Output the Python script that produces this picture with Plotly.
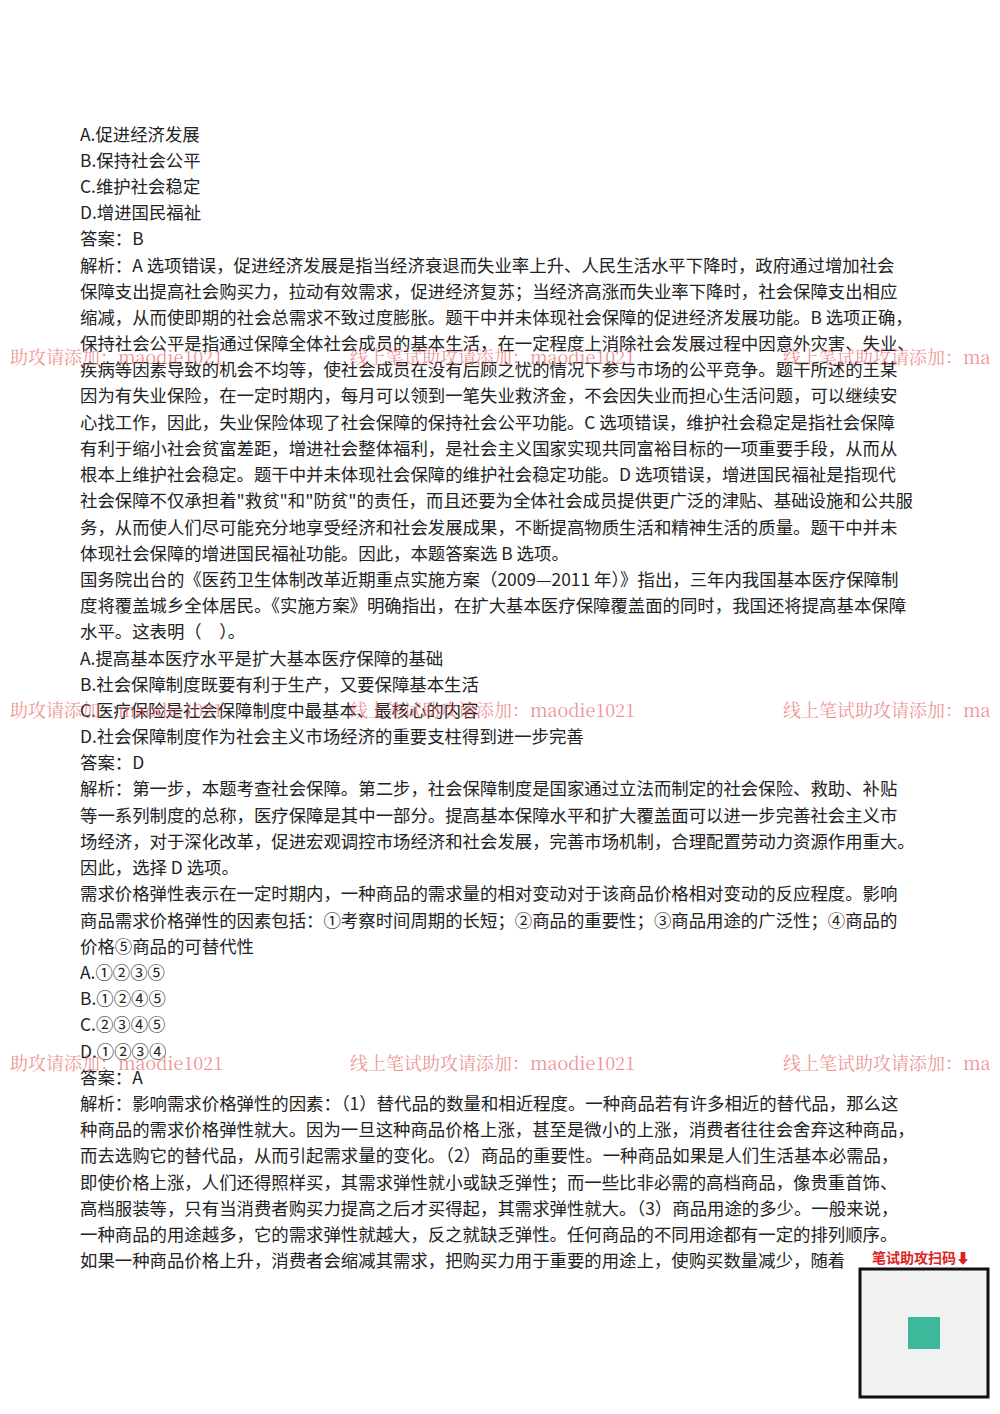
import plotly.graph_objects as go

W, H = 1000, 1414

body_lines = [
    "A.促进经济发展",
    "B.保持社会公平",
    "C.维护社会稳定",
    "D.增进国民福祉",
    "答案：B",
    "解析：A 选项错误，促进经济发展是指当经济衰退而失业率上升、人民生活水平下降时，政府通过增加社会",
    "保障支出提高社会购买力，拉动有效需求，促进经济复苏；当经济高涨而失业率下降时，社会保障支出相应",
    "缩减，从而使即期的社会总需求不致过度膨胀。题干中并未体现社会保障的促进经济发展功能。B 选项正确，",
    "保持社会公平是指通过保障全体社会成员的基本生活，在一定程度上消除社会发展过程中因意外灾害、失业、",
    "疾病等因素导致的机会不均等，使社会成员在没有后顾之忧的情况下参与市场的公平竞争。题干所述的王某",
    "因为有失业保险，在一定时期内，每月可以领到一笔失业救济金，不会因失业而担心生活问题，可以继续安",
    "心找工作，因此，失业保险体现了社会保障的保持社会公平功能。C 选项错误，维护社会稳定是指社会保障",
    "有利于缩小社会贫富差距，增进社会整体福利，是社会主义国家实现共同富裕目标的一项重要手段，从而从",
    "根本上维护社会稳定。题干中并未体现社会保障的维护社会稳定功能。D 选项错误，增进国民福祉是指现代",
    "社会保障不仅承担着\"救贫\"和\"防贫\"的责任，而且还要为全体社会成员提供更广泛的津贴、基础设施和公共服",
    "务，从而使人们尽可能充分地享受经济和社会发展成果，不断提高物质生活和精神生活的质量。题干中并未",
    "体现社会保障的增进国民福祉功能。因此，本题答案选 B 选项。",
    "国务院出台的《医药卫生体制改革近期重点实施方案（2009—2011 年）》指出，三年内我国基本医疗保障制",
    "度将覆盖城乡全体居民。《实施方案》明确指出，在扩大基本医疗保障覆盖面的同时，我国还将提高基本保障",
    "水平。这表明（　）。",
    "A.提高基本医疗水平是扩大基本医疗保障的基础",
    "B.社会保障制度既要有利于生产，又要保障基本生活",
    "C.医疗保险是社会保障制度中最基本、最核心的内容",
    "D.社会保障制度作为社会主义市场经济的重要支柱得到进一步完善",
    "答案：D",
    "解析：第一步，本题考查社会保障。第二步，社会保障制度是国家通过立法而制定的社会保险、救助、补贴",
    "等一系列制度的总称，医疗保障是其中一部分。提高基本保障水平和扩大覆盖面可以进一步完善社会主义市",
    "场经济，对于深化改革，促进宏观调控市场经济和社会发展，完善市场机制，合理配置劳动力资源作用重大。",
    "因此，选择 D 选项。",
    "需求价格弹性表示在一定时期内，一种商品的需求量的相对变动对于该商品价格相对变动的反应程度。影响",
    "商品需求价格弹性的因素包括：①考察时间周期的长短；②商品的重要性；③商品用途的广泛性；④商品的",
    "价格⑤商品的可替代性",
    "A.①②③⑤",
    "B.①②④⑤",
    "C.②③④⑤",
    "D.①②③④",
    "答案：A",
    "解析：影响需求价格弹性的因素：（1）替代品的数量和相近程度。一种商品若有许多相近的替代品，那么这",
    "种商品的需求价格弹性就大。因为一旦这种商品价格上涨，甚至是微小的上涨，消费者往往会舍弃这种商品，",
    "而去选购它的替代品，从而引起需求量的变化。（2）商品的重要性。一种商品如果是人们生活基本必需品，",
    "即使价格上涨，人们还得照样买，其需求弹性就小或缺乏弹性；而一些比非必需的高档商品，像贵重首饰、",
    "高档服装等，只有当消费者购买力提高之后才买得起，其需求弹性就大。（3）商品用途的多少。一般来说，",
    "一种商品的用途越多，它的需求弹性就越大，反之就缺乏弹性。任何商品的不同用途都有一定的排列顺序。",
    "如果一种商品价格上升，消费者会缩减其需求，把购买力用于重要的用途上，使购买数量减少，随着",
]

watermark_texts = ["助攻请添加：maodie1021", "线上笔试助攻请添加：maodie1021", "线上笔试助攻请添加：ma"]
watermark_x = [10, 350, 783]
watermark_rows = [357, 710, 1063]

# the rendered page sits about (10, 9) px off, so pull everything back
DX, DY = -10, -9


def px(x):
    return (x + DX) / W


def py(y):
    return 1 - (y + DY) / H


fig = go.Figure()
annotations = []

top, step = 134, 26.2
for i, line in enumerate(body_lines):
    annotations.append(dict(
        text=line, x=px(80), y=py(top + i * step), xref="paper", yref="paper",
        xanchor="left", yanchor="middle", showarrow=False,
        font=dict(family="Noto Sans CJK SC", size=17.4, color="#222"),
    ))

for ry in watermark_rows:
    for wx, wt in zip(watermark_x, watermark_texts):
        annotations.append(dict(
            text=wt, x=px(wx), y=py(ry), xref="paper", yref="paper",
            xanchor="left", yanchor="middle", showarrow=False,
            font=dict(family="Noto Serif CJK SC, Liberation Serif, serif", size=18,
                      color="rgba(235,110,110,0.75)"),
        ))

annotations.append(dict(
    text="<b>笔试助攻扫码⬇</b>", x=px(872), y=py(1258), xref="paper", yref="paper",
    xanchor="left", yanchor="middle", showarrow=False,
    font=dict(family="Noto Sans CJK SC", size=14, color="#d22"),
))

shapes = [
    dict(type="rect", xref="paper", yref="paper", x0=px(862), x1=px(990),
         y0=py(1398), y1=py(1270), line=dict(color="#111", width=3),
         fillcolor="rgba(0,0,0,0.05)"),
    dict(type="rect", xref="paper", yref="paper", x0=px(910), x1=px(942),
         y0=py(1350), y1=py(1318), line=dict(width=0), fillcolor="#3cb89a"),
]

fig.update_layout(
    width=W, height=H, margin=dict(l=0, r=0, t=0, b=0),
    paper_bgcolor="white", plot_bgcolor="white",
    xaxis=dict(visible=False), yaxis=dict(visible=False),
    annotations=annotations, shapes=shapes, showlegend=False,
)

fig.write_html("out.html")
